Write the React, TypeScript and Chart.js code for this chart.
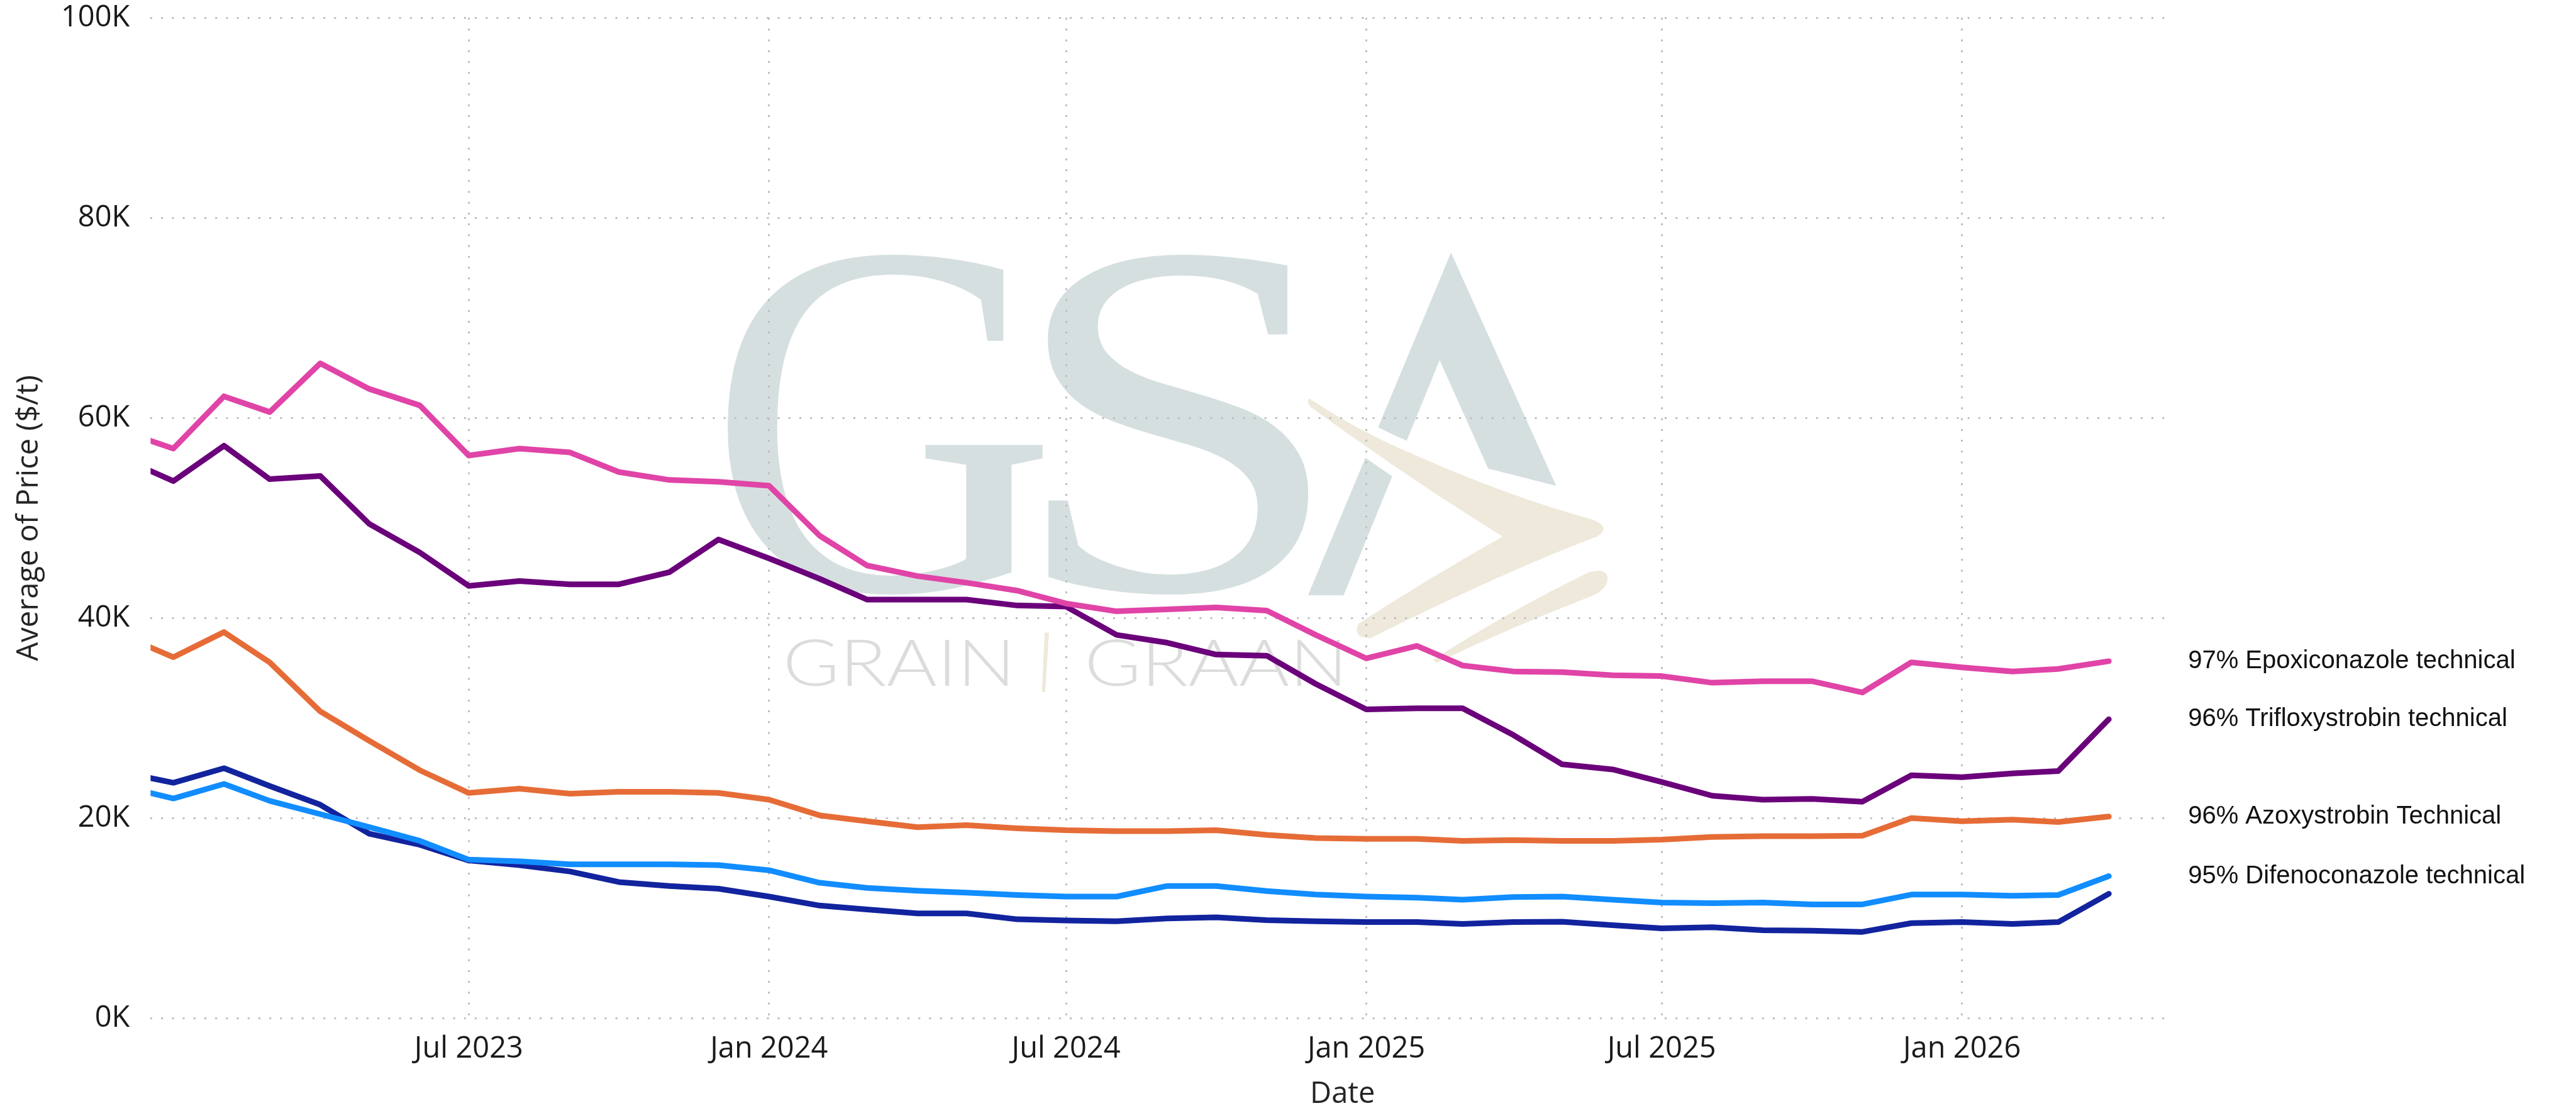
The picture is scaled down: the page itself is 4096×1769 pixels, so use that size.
import React, { useEffect, useRef } from 'react';
import { Chart, registerables } from 'chart.js';

Chart.register(...registerables);

// ---------------- data ----------------
const months = [
  '2022-12',
  '2023-01', '2023-02', '2023-03', '2023-04', '2023-05', '2023-06',
  '2023-07', '2023-08', '2023-09', '2023-10', '2023-11', '2023-12',
  '2024-01', '2024-02', '2024-03', '2024-04', '2024-05', '2024-06',
  '2024-07', '2024-08', '2024-09', '2024-10', '2024-11', '2024-12',
  '2025-01', '2025-02', '2025-03', '2025-04', '2025-05', '2025-06',
  '2025-07', '2025-08', '2025-09', '2025-10', '2025-11', '2025-12',
  '2026-01', '2026-02', '2026-03', '2026-04',
];

const epoxiconazole = [
  58660,
  56940, 62160, 60590, 65450, 62900, 61250,
  56240, 56940, 56550, 54590, 53800, 53610,
  53220, 48230, 45250, 44190, 43530, 42740,
  41450, 40670, 40860, 41060, 40740, 38310,
  35960, 37210, 35250, 34660, 34590, 34270,
  34190, 33530, 33680, 33680, 32550, 35570,
  35060, 34660, 34900, 35680,
];

const trifloxystrobin = [
  55920,
  53690, 57220, 53880, 54200, 49410, 46550,
  43210, 43690, 43370, 43370, 44590, 47840,
  45960, 43920, 41840, 41840, 41840, 41250,
  41140, 38310, 37530, 36350, 36230, 33410,
  30860, 30980, 30980, 28310, 25370, 24860,
  23600, 22230, 21840, 21920, 21640, 24270,
  24080, 24470, 24700, 29880,
];

const azoxystrobin = [
  38230,
  36080, 38590, 35570, 30660, 27720, 24780,
  22510, 22940, 22430, 22620, 22620, 22510,
  21840, 20270, 19680, 19090, 19290, 18980,
  18780, 18700, 18700, 18780, 18310, 18000,
  17920, 17920, 17720, 17800, 17720, 17720,
  17840, 18110, 18190, 18190, 18230, 20000,
  19680, 19840, 19600, 20150,
];

const difenoconazole = [
  23160,
  21960, 23410, 21720, 20390, 19090, 17720,
  15840, 15680, 15370, 15370, 15370, 15290,
  14780, 13530, 13020, 12740, 12550, 12310,
  12150, 12150, 13210, 13210, 12700, 12350,
  12150, 12040, 11840, 12110, 12150, 11840,
  11560, 11490, 11560, 11370, 11370, 12350,
  12350, 12230, 12310, 14190,
];

// fifth series: its end label is hidden in the original visual
const unlabelledSeries = [
  24560,
  23530, 24980, 23210, 21330, 18430, 17330,
  15760, 15290, 14660, 13600, 13210, 12940,
  12150, 11250, 10860, 10470, 10470, 9880,
  9760, 9680, 9960, 10070, 9800, 9680,
  9600, 9600, 9410, 9600, 9640, 9290,
  8980, 9090, 8780, 8740, 8620, 9490,
  9600, 9410, 9600, 12430,
];

const seriesNames = [
  '97% Epoxiconazole technical',
  '96% Trifloxystrobin technical',
  '96% Azoxystrobin Technical',
  '95% Difenoconazole technical',
  '',
];
const seriesColors = ['#E044A7', '#6B007B', '#E66C37', '#118DFF', '#12239E'];
const seriesShowLabel = [true, true, true, true, false];

const tickDates = ['2023-07', '2024-01', '2024-07', '2025-01', '2025-07', '2026-01'];
const tickLabels = ['Jul 2023', 'Jan 2024', 'Jul 2024', 'Jan 2025', 'Jul 2025', 'Jan 2026'];
const xRange = ['2022-12-18', '2026-05-08'];
const yRange = [0, 100000];
const yStep = 20000;

const xTitle = 'Date';
const yTitle = 'Average of Price ($/t)';

// ---------------- layout ----------------
const S = 0.858;
const W = 4096;
const H = 1769;
const AXIS_FONT = '"Segoe UI", "Open Sans", "Noto Sans", sans-serif';
const LABEL_FONT = '"Liberation Sans", Arial, Helvetica, sans-serif';

const toMs = (s: string) => {
  const p = s.split('-').map(Number);
  return Date.UTC(p[0], p[1] - 1, p[2] || 1);
};

const tickMs = tickDates.map(toMs);

function fitText(
  ctx: CanvasRenderingContext2D,
  text: string,
  font: string,
  x0: number,
  y0: number,
  x1: number,
  y1: number,
  color: string
) {
  ctx.save();
  ctx.font = font;
  ctx.textAlign = 'left';
  ctx.textBaseline = 'alphabetic';
  const m = ctx.measureText(text);
  const inkW = m.actualBoundingBoxLeft + m.actualBoundingBoxRight;
  const inkH = m.actualBoundingBoxAscent + m.actualBoundingBoxDescent;
  ctx.translate(x0, y0);
  ctx.scale((x1 - x0) / inkW, (y1 - y0) / inkH);
  ctx.fillStyle = color;
  ctx.fillText(text, m.actualBoundingBoxLeft, m.actualBoundingBoxAscent);
  ctx.restore();
}

function drawWatermark(ctx: CanvasRenderingContext2D) {
  ctx.save();
  ctx.scale(S, S);
  const slate = '#D6DFE0';
  const beige = '#EEE9DB';
  const serif = '400 900px "Liberation Serif", "DejaVu Serif", serif';
  fitText(ctx, 'G', serif, 1340, 463, 1943, 1107, slate);
  fitText(ctx, 'S', serif, 1937, 463, 2431, 1107, slate);

  // A (no crossbar)
  ctx.fillStyle = slate;
  ctx.beginPath();
  ctx.moveTo(2689, 468);
  ctx.lineTo(2884, 900);
  ctx.lineTo(2758, 868);
  ctx.lineTo(2668, 667);
  ctx.lineTo(2490, 1103);
  ctx.lineTo(2424, 1103);
  ctx.closePath();
  ctx.fill();

  // chevron
  const chev = new Path2D();
  chev.moveTo(2426, 738);
  chev.quadraticCurveTo(2520, 800, 2616, 840);
  chev.quadraticCurveTo(2790, 918, 2950, 962);
  chev.quadraticCurveTo(2988, 976, 2960, 994);
  chev.quadraticCurveTo(2790, 1058, 2540, 1182);
  chev.quadraticCurveTo(2505, 1182, 2518, 1155);
  chev.quadraticCurveTo(2650, 1070, 2785, 994);
  chev.quadraticCurveTo(2620, 892, 2440, 762);
  chev.quadraticCurveTo(2418, 748, 2426, 738);
  chev.closePath();

  const chev2 = new Path2D();
  chev2.moveTo(2656, 1222);
  chev2.quadraticCurveTo(2800, 1130, 2945, 1060);
  chev2.quadraticCurveTo(2985, 1050, 2978, 1080);
  chev2.quadraticCurveTo(2970, 1096, 2950, 1104);
  chev2.quadraticCurveTo(2800, 1162, 2662, 1228);
  chev2.closePath();

  ctx.lineJoin = 'round';
  ctx.strokeStyle = '#ffffff';
  ctx.lineWidth = 36;
  ctx.stroke(chev);
  ctx.stroke(chev2);
  ctx.fillStyle = beige;
  ctx.fill(chev);
  ctx.fill(chev2);

  // GRAIN | GRAAN
  const thin = '300 120px Lato, "Open Sans", sans-serif';
  fitText(ctx, 'GRAIN', thin, 1459, 1183, 1868, 1271, '#DCDCDC');
  fitText(ctx, 'GRAAN', thin, 2018, 1183, 2484, 1271, '#DCDCDC');
  ctx.fillStyle = beige;
  ctx.beginPath();
  ctx.moveTo(1936, 1172);
  ctx.lineTo(1944, 1172);
  ctx.lineTo(1937, 1282);
  ctx.lineTo(1931, 1282);
  ctx.closePath();
  ctx.fill();
  ctx.restore();
}

const backgroundPlugin = {
  id: 'bgWatermark',
  beforeDraw(chart: any) {
    const ctx = chart.ctx as CanvasRenderingContext2D;
    ctx.save();
    ctx.fillStyle = '#ffffff';
    ctx.fillRect(0, 0, chart.width, chart.height);
    ctx.restore();
    drawWatermark(ctx);
  },
};

const endLabelPlugin = {
  id: 'endLabels',
  afterDatasetsDraw(chart: any) {
    const ctx = chart.ctx as CanvasRenderingContext2D;
    const area = chart.chartArea;
    ctx.save();
    ctx.font = `${40}px ${LABEL_FONT}`;
    ctx.fillStyle = '#111111';
    ctx.textAlign = 'left';
    ctx.textBaseline = 'middle';
    chart.data.datasets.forEach((ds: any, i: number) => {
      if (!seriesShowLabel[i]) return;
      const meta = chart.getDatasetMeta(i);
      const last = meta.data[meta.data.length - 1];
      ctx.fillText(ds.label, area.right + 35 * S, last.y);
    });
    ctx.restore();
  },
  afterDraw(chart: any) {
    const ctx = chart.ctx as CanvasRenderingContext2D;
    ctx.save();
    ctx.font = `${47}px ${AXIS_FONT}`;
    ctx.fillStyle = '#252423';
    ctx.textAlign = 'center';
    ctx.textBaseline = 'middle';
    ctx.fillText(xTitle, 2488 * S, 2027 * S);
    ctx.restore();
  },
};

export default function App() {
  const canvasRef = useRef<HTMLCanvasElement | null>(null);

  useEffect(() => {
    const canvas = canvasRef.current;
    if (!canvas) return;
    const xs = months.map(toMs);
    const series = [epoxiconazole, trifloxystrobin, azoxystrobin, difenoconazole, unlabelledSeries];

    const gridColor = '#BEBEBE';
    const dash = [3, 14.2];

    const chart = new Chart(canvas, {
      type: 'line',
      data: {
        datasets: series.map((vals, i) => ({
          label: seriesNames[i],
          data: vals.map((v, j) => ({ x: xs[j], y: v })),
          borderColor: seriesColors[i],
          backgroundColor: seriesColors[i],
          borderWidth: 10.5 * S,
          borderCapStyle: 'round',
          borderJoinStyle: 'round',
          pointRadius: 0,
          pointHoverRadius: 0,
          tension: 0,
          fill: false,
          clip: 0,
        })) as any,
      },
      options: {
        responsive: false,
        maintainAspectRatio: false,
        animation: false,
        devicePixelRatio: 1,
        layout: {
          padding: { left: 0, top: 33 * S, right: W - 4020 * S, bottom: 0 },
        },
        plugins: {
          legend: { display: false },
          tooltip: { enabled: false },
          title: { display: false },
        },
        scales: {
          x: {
            type: 'linear',
            min: toMs(xRange[0]),
            max: toMs(xRange[1]),
            afterBuildTicks: (scale: any) => {
              scale.ticks = tickMs.map((v) => ({ value: v }));
            },
            afterFit: (scale: any) => {
              scale.height = H - 1886 * S;
              scale.paddingLeft = 0;
              scale.paddingRight = 0;
            },
            ticks: {
              autoSkip: false,
              maxRotation: 0,
              minRotation: 0,
              padding: 21,
              color: '#1a1a1a',
              font: { family: AXIS_FONT, size: 47 },
              callback: (v: any) => {
                const i = tickMs.indexOf(Number(v));
                return i >= 0 ? tickLabels[i] : '';
              },
            },
            grid: {
              color: gridColor,
              lineWidth: 3,
              drawTicks: false,
            },
            border: { display: false, dash },
          },
          y: {
            type: 'linear',
            min: yRange[0],
            max: yRange[1],
            afterFit: (scale: any) => {
              scale.width = 279 * S;
              scale.paddingTop = 0;
              scale.paddingBottom = 0;
            },
            ticks: {
              stepSize: yStep,
              padding: 33,
              color: '#1a1a1a',
              font: { family: AXIS_FONT, size: 47 },
              callback: (v: any) => `${Math.round(Number(v) / 1000)}K`,
            },
            grid: {
              color: gridColor,
              lineWidth: 3,
              drawTicks: false,
            },
            border: { display: false, dash },
            title: {
              display: true,
              text: yTitle,
              color: '#252423',
              font: { family: AXIS_FONT, size: 47 },
              padding: { top: 18, bottom: 0 },
            },
          },
        },
      } as any,
      plugins: [backgroundPlugin, endLabelPlugin],
    });

    return () => {
      chart.destroy();
    };
  }, []);

  return (
    <div style={{ position: 'absolute', left: 0, top: 0, width: W, height: H, background: '#fff' }}>
      <canvas ref={canvasRef} width={W} height={H} style={{ width: W, height: H, display: 'block' }} />
    </div>
  );
}
